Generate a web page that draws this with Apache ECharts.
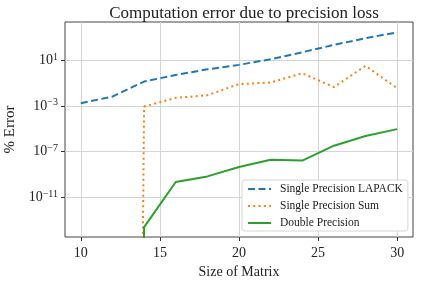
<!DOCTYPE html>
<html>
<head>
<meta charset="utf-8">
<script src="https://cdn.jsdelivr.net/npm/echarts@6/dist/echarts.min.js"></script>
<style>html,body{margin:0;padding:0;background:#fff}#c{width:424px;height:283px}</style>
</head>
<body>
<div id="c"></div>
<script>
// ---- data ----
const sizes = [10, 12, 14, 16, 18, 20, 22, 24, 26, 28, 30];
const lapackErr = [1.7e-3, 6.5e-3, 0.135, 0.51, 1.6, 3.9, 12.3, 50, 220, 850, 2800];
const sumErr    = [0, 0, 8.7e-4, 5e-3, 8.5e-3, 0.08, 0.11, 0.72, 0.044, 3.2, 0.035];
const doubleErr = [0, 0, 2.3e-14, 2.1e-10, 6.5e-10, 4.3e-9, 1.9e-8, 1.6e-8, 3.2e-7, 2.3e-6, 9.1e-6];
const xTicks = [10, 15, 20, 25, 30];
const yTicks = [1e-11, 1e-7, 1e-3, 1e1];
const seriesNames = ['Single Precision LAPACK', 'Single Precision Sum', 'Double Precision'];

// non-positive values are clipped to a tiny positive number (like matplotlib's log clipping)
const CLIP = 1e-300;
const pairs = (ys) => sizes.map((x, i) => [x, ys[i] > 0 ? ys[i] : CLIP]);

const FONT = 'Liberation Serif';
const TXT = '#222';

const chart = echarts.init(document.getElementById('c'), null, {renderer: 'canvas'});
chart.setOption({
  animation: false,
  backgroundColor: '#fff',
  textStyle: {fontFamily: FONT},
  title: {
    text: 'Computation error due to precision loss',
    left: 239, top: 0, textAlign: 'center',
    textStyle: {fontFamily: FONT, fontSize: 17, fontWeight: 'normal', color: TXT}
  },
  grid: {left: 65, right: 11, top: 22, bottom: 46, outerBoundsMode: 'none', containLabel: false,
         show: true, borderColor: '#444', borderWidth: 1, backgroundColor: 'transparent'},
  legend: {
    orient: 'vertical', left: 242, top: 180,
    backgroundColor: '#fff', borderColor: '#d6d6d6', borderWidth: 1, borderRadius: 3,
    padding: [3, 5, 2, 5], itemGap: 5, itemWidth: 23, itemHeight: 12,
    itemStyle: {opacity: 0, borderWidth: 0},
    textStyle: {fontFamily: FONT, fontSize: 11.5, color: TXT, padding: [0, 0, 0, 4]},
    data: seriesNames
  },
  xAxis: {
    type: 'value', min: 9, max: 31,
    name: 'Size of Matrix', nameLocation: 'middle', nameGap: 23,
    nameTextStyle: {fontFamily: FONT, fontSize: 14, color: TXT},
    axisLine: {show: false},
    axisTick: {show: true, inside: false, length: 4, lineStyle: {color: '#333'}, customValues: xTicks},
    axisLabel: {customValues: xTicks, margin: 9, fontFamily: FONT, fontSize: 14, color: TXT},
    splitLine: {show: true, lineStyle: {color: '#d4d4d4', width: 1}}
  },
  yAxis: {
    type: 'log', logBase: 10, min: Math.pow(10, -14.5), max: Math.pow(10, 4.35),
    name: '% Error', nameLocation: 'middle', nameGap: 44, nameRotate: 90,
    nameTextStyle: {fontFamily: FONT, fontSize: 15, color: TXT},
    axisLine: {show: false},
    axisTick: {show: true, inside: false, length: 4, lineStyle: {color: '#333'}, customValues: yTicks},
    axisLabel: {
      customValues: yTicks, margin: 7, color: TXT,
      formatter: (v) => {
        const e = Math.round(Math.log10(v));
        return '{b|10}{s|' + (e < 0 ? '\u2212' : '') + Math.abs(e) + '}';
      },
      rich: {
        b: {fontFamily: FONT, fontSize: 14, color: TXT, lineHeight: 16},
        s: {fontFamily: FONT, fontSize: 10, color: TXT, verticalAlign: 'top', lineHeight: 10}
      }
    },
    splitLine: {show: true, lineStyle: {color: '#d4d4d4', width: 1}}
  },
  series: [
    {name: seriesNames[0], type: 'line', data: pairs(lapackErr), showSymbol: false, symbol: 'none',
     color: '#1f77b4', lineStyle: {width: 2, type: [7, 3.5], color: '#1f77b4'}, clip: true},
    {name: seriesNames[1], type: 'line', data: pairs(sumErr), showSymbol: false, symbol: 'none',
     color: '#ff7f0e', lineStyle: {width: 2, type: [2, 3.3], color: '#ff7f0e'}, clip: true},
    {name: seriesNames[2], type: 'line', data: pairs(doubleErr), showSymbol: false, symbol: 'none',
     color: '#2ca02c', lineStyle: {width: 2, type: 'solid', color: '#2ca02c'}, clip: true}
  ]
});
</script>
</body>
</html>
